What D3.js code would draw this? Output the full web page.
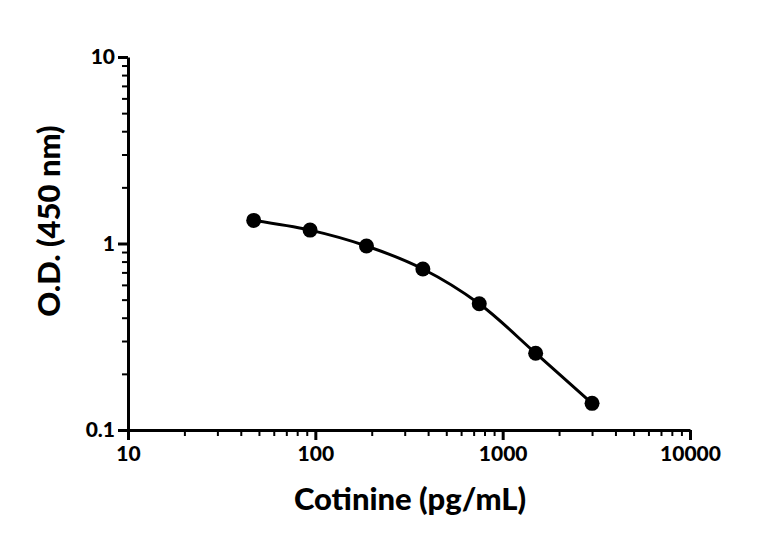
<!DOCTYPE html>
<html><head><meta charset="utf-8">
<script src="https://cdn.jsdelivr.net/npm/d3@7"></script>
<style>body{margin:0;background:#fff}text{font-family:Lato,"Open Sans",sans-serif;font-weight:900}</style>
</head><body>
<svg id="c" width="768" height="541"></svg>
<script>
const concentrations=[46.875,93.75,187.5,375,750,1500,3000];
const odValues=[1.33,1.18,0.97,0.73,0.475,0.258,0.139];
const xTickLabels=[10,100,1000,10000];
const yTickLabels=[0.1,1,10];
const svg=d3.select("#c");
const x=d3.scaleLog().domain([10,10000]).range([128,690]);
const y=d3.scaleLog().domain([0.1,10]).range([430,57]);
const minor=(lo,hi)=>{const r=[];for(let d=lo;d<hi;d*=10)for(let k=2;k<10;k++)r.push(d*k);return r;};
svg.append("g").attr("transform","translate(0,430)").call(d3.axisBottom(x).tickValues(minor(10,10000)).tickSize(6).tickFormat(""))
 .call(g=>{g.select(".domain").remove();g.selectAll("line").attr("stroke-width",2);});
svg.append("g").attr("transform","translate(128,0)").call(d3.axisLeft(y).tickValues(minor(0.1,10)).tickSize(6).tickFormat(""))
 .call(g=>{g.select(".domain").remove();g.selectAll("line").attr("stroke-width",2);});
svg.append("g").attr("transform","translate(0,430)").call(d3.axisBottom(x).tickValues(xTickLabels).tickSize(10).tickSizeOuter(0).tickFormat(d3.format("d")))
 .call(g=>{g.select(".domain").attr("stroke-width",3);g.selectAll("line").attr("stroke-width",3);g.selectAll("text").attr("font-size",21).attr("dy","0.85em").attr("fill","#000");});
svg.append("g").attr("transform","translate(128,0)").call(d3.axisLeft(y).tickValues(yTickLabels).tickSize(10).tickSizeOuter(0).tickFormat(d=>String(d)))
 .call(g=>{g.select(".domain").attr("stroke-width",3);g.selectAll("line").attr("stroke-width",3);g.selectAll("text").attr("font-size",21).attr("fill","#000");});
const pts=concentrations.map((c,i)=>[x(c),y(odValues[i])]);
svg.append("path").attr("d",d3.line().curve(d3.curveCatmullRom)(pts)).attr("fill","none").attr("stroke","#000").attr("stroke-width",3);
svg.selectAll("circle.p").data(pts).join("circle").attr("cx",d=>d[0]).attr("cy",d=>d[1]).attr("r",7.5).attr("fill","#000");
svg.append("text").attr("x",410).attr("y",510).attr("text-anchor","middle").attr("font-size",31).text("Cotinine (pg/mL)");
svg.append("text").attr("transform","translate(60,221) rotate(-90)").attr("text-anchor","middle").attr("font-size",31).text("O.D. (450 nm)");
</script></body></html>
